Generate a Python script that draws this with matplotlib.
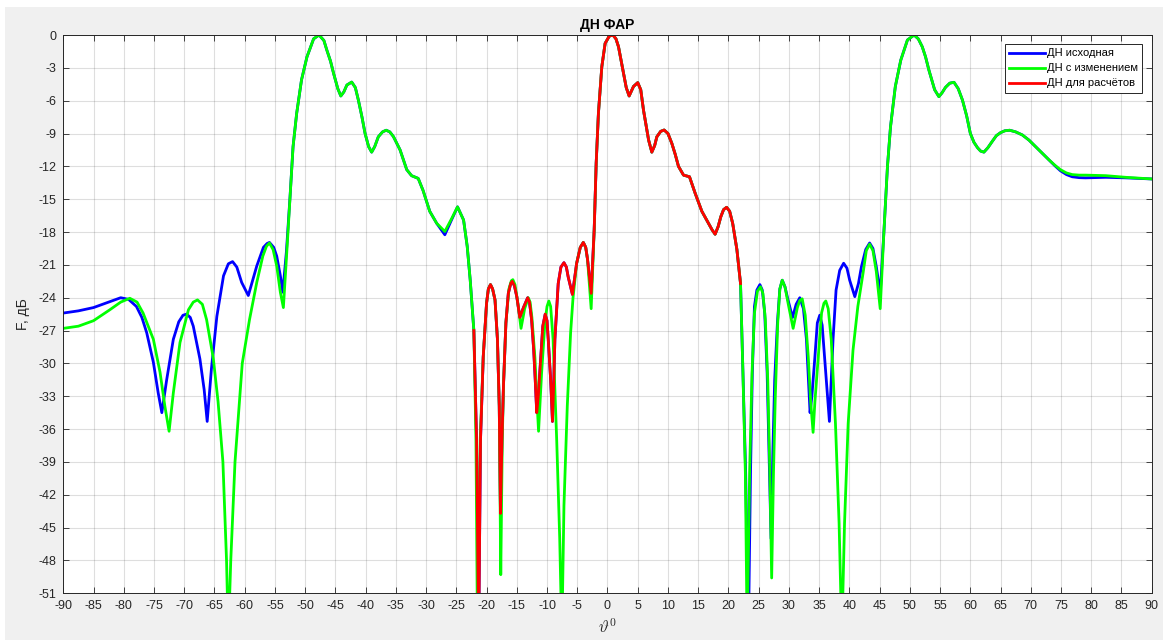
import numpy as np
import matplotlib
matplotlib.use("Agg")
import matplotlib.pyplot as plt
from matplotlib.patches import Rectangle

plt.rcParams['font.family'] = ['Liberation Sans', 'DejaVu Sans']
plt.rcParams['axes.unicode_minus'] = False
plt.rcParams['mathtext.fontset'] = 'cm'

# ---- data (angle in degrees, level in dB) ----
# far-left side lobes, blue
blue_left_deg = [-90, -87.5, -85, -82.5, -80.5, -79.2, -77.9, -77.0, -76.2, -75.1, -74.3, -73.7,
                 -72.9, -71.8, -70.9, -70.2, -69.6, -69.0, -68.5, -67.4, -66.7, -66.2, -65.5,
                 -64.6, -63.5, -62.7, -62.0, -61.3, -60.5, -59.4, -58.0, -56.9, -56.3, -55.9,
                 -55.2, -54.7, -54.1, -53.7, -53.1]
blue_left_db = [-25.4, -25.2, -24.9, -24.4, -24.0, -24.15, -24.8, -25.8, -27.2, -29.9, -32.7, -34.5,
                -31.5, -27.8, -26.2, -25.6, -25.5, -25.8, -26.6, -29.6, -32.4, -35.3, -30.5,
                -25.7, -22.0, -20.9, -20.7, -21.2, -22.6, -23.8, -21.1, -19.4, -19.05, -18.95,
                -19.4, -20.2, -22.0, -23.5, -19.8]

green_left_deg = [-90, -87.5, -85, -82.3, -80.5, -79.0, -77.8, -76.8, -75.1, -74.0, -73.2, -72.5,
                  -71.8, -70.7, -69.3, -68.5, -67.8, -67.0, -66.3, -65.2, -64.4, -63.6, -63.0,
                  -62.7, -62.3, -61.6, -60.4, -59.2, -58.0, -57.0, -56.4, -55.9, -55.3, -54.7,
                  -54.1, -53.6, -53.0]
green_left_db = [-26.8, -26.6, -26.1, -25.1, -24.4, -24.05, -24.4, -25.4, -27.8, -30.8, -33.9, -36.2,
                 -32.7, -28.1, -25.1, -24.4, -24.2, -24.6, -26.0, -29.5, -33.5, -39.0, -48.0,
                 -55.0, -48.0, -39.0, -30.0, -26.0, -22.6, -20.2, -19.3, -19.0, -19.6, -21.1,
                 -23.5, -24.9, -19.5]

# left main lobe (blue and green coincide)
lobe_left_deg = [-52.5, -52.0, -51.4, -50.6, -49.7, -48.6, -47.7, -46.9, -46.4, -45.8, -45.3, -44.6,
                 -44.1, -43.6, -43.1, -42.3, -41.7, -41.2, -40.6, -40.1, -39.5, -39.0, -38.5,
                 -37.9, -37.2, -36.6, -36.0, -35.4, -34.3, -33.2, -32.4, -31.3, -30.5, -29.4,
                 -28.25]
lobe_left_db = [-14.8, -10.2, -7.15, -4.1, -2.0, -0.35, 0.0, -0.5, -1.4, -2.4, -3.5, -4.9,
                -5.57, -5.2, -4.57, -4.3, -4.8, -5.94, -7.5, -8.97, -10.2, -10.7, -10.2,
                -9.3, -8.85, -8.7, -8.85, -9.28, -10.5, -12.3, -12.85, -13.1, -14.2, -16.1,
                -17.2]

blue_mid_deg = [-26.9, -25.8, -24.8, -23.8, -23.2, -22.7]
blue_mid_db = [-18.25, -16.9, -15.7, -16.9, -19.3, -22.4]
green_mid_db = [-17.95, -16.8, -15.7, -16.9, -19.3, -22.4]

# pattern used for calculations (red); the blue one lies under it
calc_deg = [-22.1, -21.65, -21.3, -21.0, -20.55, -20.0, -19.7, -19.35, -19.0, -18.6, -18.2, -17.9,
            -17.7, -17.45, -17.2, -16.8, -16.4, -16.0, -15.75, -15.4, -15.0, -14.5, -13.9, -13.2,
            -12.9, -12.55, -12.2, -11.95, -11.7, -11.45, -11.2, -10.7, -10.3, -10.0, -9.8, -9.4,
            -9.1, -8.9, -8.7, -8.15, -7.7, -7.2, -6.8, -6.5, -5.8, -5.1, -4.5, -4.0, -3.6, -3.3,
            -2.7, -2.2, -1.87, -1.5, -0.94, -0.39, 0.3, 0.9, 1.4, 1.82, 2.65, 3.1, 3.58, 4.3, 5.0,
            5.5, 5.95, 6.8, 7.33, 7.8, 8.16, 8.8, 9.37, 10.0, 10.64, 11.2, 11.74, 12.57, 13.56,
            14.5, 15.6, 16.7, 17.3, 17.8, 18.3, 18.74, 19.2, 19.7, 20.2, 20.7, 21.4, 22.0]
calc_db = [-27.0, -37.0, -55.0, -37.0, -29.4, -24.5, -23.2, -22.8, -23.2, -24.2, -27.8, -33.9,
           -43.7, -37.0, -32.0, -26.3, -23.6, -22.7, -22.5, -22.9, -23.9, -25.8, -24.9, -24.0,
           -24.4, -26.0, -28.8, -31.5, -34.5, -33.0, -30.9, -26.6, -25.5, -26.1, -27.8, -31.5,
           -35.3, -32.0, -27.8, -22.7, -21.2, -20.8, -21.2, -22.1, -23.7, -20.85, -19.4, -18.95,
           -19.4, -20.5, -23.6, -17.8, -11.7, -7.15, -2.9, -0.76, -0.1, 0.0, -0.35, -1.07, -3.5,
           -4.8, -5.57, -4.7, -4.35, -5.0, -6.85, -9.6, -10.7, -10.1, -9.3, -8.8, -8.68, -9.0,
           -9.9, -10.9, -12.0, -12.8, -12.95, -14.46, -16.1, -17.2, -17.8, -18.2, -17.5, -16.6,
           -15.95, -15.74, -16.1, -17.2, -19.6, -22.7]

green_center_deg = [-22.1, -21.75, -21.5, -21.05, -20.55, -20.0, -19.7, -19.35, -19.0, -18.6, -18.2,
                    -17.9, -17.65, -17.4, -17.2, -16.8, -16.3, -15.9, -15.65, -15.3, -14.8, -14.3,
                    -13.7, -13.1, -12.8, -12.5, -12.0, -11.7, -11.4, -11.15, -10.9, -10.35, -10.0,
                    -9.7, -9.4, -9.0, -8.4, -7.9, -7.55, -7.2, -6.65, -6.1, -5.7, -5.1, -4.5, -4.0,
                    -3.6, -3.3, -2.7]
green_center_db = [-27.0, -37.0, -55.0, -37.0, -29.4, -24.5, -23.2, -22.8, -23.2, -24.2, -27.8,
                   -33.9, -49.3, -37.0, -32.0, -26.3, -23.2, -22.45, -22.35, -22.8, -24.6, -26.8,
                   -25.0, -24.0, -24.4, -25.8, -29.5, -33.0, -36.2, -33.5, -30.9, -26.3, -24.8,
                   -24.3, -24.8, -27.8, -37.0, -46.0, -55.0, -43.0, -33.9, -27.2, -24.0, -20.85,
                   -19.4, -18.95, -19.4, -20.5, -25.0]

# right side lobes
blue_right_deg = [22.4, 22.85, 23.3, 23.65, 23.95, 24.3, 24.7, 25.2, 25.6, 26.0, 26.4, 26.8, 27.05,
                  27.35, 27.65, 28.1, 28.5, 28.9, 29.35, 29.85, 30.6, 31.2, 31.8, 32.4, 32.9, 33.5,
                  33.8, 34.3, 34.7, 35.1, 35.5, 35.9, 36.7, 37.3, 37.8, 38.4, 39.05, 39.6, 40.05,
                  40.9, 41.5, 42.0, 42.7, 43.35, 43.9, 44.45, 45.1]
blue_right_db = [-30.9, -40.0, -55.0, -40.0, -30.9, -24.8, -23.3, -22.8, -23.3, -25.4, -30.9, -40.0,
                 -46.0, -38.0, -31.5, -26.3, -23.2, -22.4, -23.0, -24.2, -25.8, -24.6, -24.0, -25.0,
                 -27.8, -34.5, -33.0, -29.4, -26.3, -25.6, -26.5, -29.4, -35.3, -27.8, -23.3, -21.5,
                 -20.85, -21.3, -22.4, -23.9, -22.7, -21.15, -19.6, -19.0, -19.5, -21.15, -23.6]

green_right_deg = [22.4, 22.8, 23.1, 23.5, 23.9, 24.3, 24.8, 25.3, 25.7, 26.1, 26.5, 26.85, 27.15,
                   27.45, 27.75, 28.15, 28.5, 28.9, 29.35, 29.9, 30.7, 31.4, 31.8, 32.2, 32.7, 33.2,
                   33.6, 34.0, 34.3, 34.65, 35.4, 35.8, 36.1, 36.5, 37.0, 37.7, 38.3, 38.75, 39.2,
                   39.8, 40.6, 41.4, 42.25, 42.8, 43.35, 43.9, 44.45, 45.1]
green_right_db = [-30.9, -40.0, -55.0, -40.0, -30.9, -25.4, -23.4, -23.0, -23.6, -26.0, -31.5, -40.0,
                  -49.6, -40.0, -33.0, -26.3, -23.2, -22.4, -23.0, -24.6, -26.8, -24.9, -24.25,
                  -24.1, -25.6, -29.4, -33.5, -36.3, -33.5, -30.9, -25.4, -24.5, -24.3, -25.0,
                  -27.8, -35.5, -44.6, -55.0, -44.6, -35.5, -28.8, -24.8, -21.8, -19.7, -19.1,
                  -19.7, -21.6, -25.0]

# right main lobe (blue and green coincide)
lobe_right_deg = [45.7, 46.3, 46.8, 47.6, 48.5, 49.6, 50.7, 51.4, 52.05, 52.6, 53.15, 54.1, 54.8,
                  55.3, 55.9, 56.6, 57.3, 58.0, 58.7, 59.4, 60.0, 60.6, 61.2, 61.7, 62.25, 62.9,
                  63.6, 64.3, 65.0, 65.7, 66.5, 67.5, 68.6, 69.7, 70.8, 71.9, 73.0]
lobe_right_db = [-18.1, -12.0, -8.4, -4.7, -2.3, -0.46, 0.0, -0.35, -1.07, -2.0, -3.2, -5.0, -5.63,
                 -5.3, -4.78, -4.4, -4.32, -4.9, -5.94, -7.4, -8.98, -9.8, -10.3, -10.6, -10.7,
                 -10.3, -9.74, -9.2, -8.92, -8.75, -8.7, -8.85, -9.13, -9.6, -10.2, -10.8, -11.4]

tail_deg = [74.0, 74.9, 75.9, 76.85, 78.0, 79.05, 82.4, 85.7, 90.0]
blue_tail_db = [-11.95, -12.4, -12.75, -12.95, -13.03, -13.05, -13.0, -13.05, -13.15]
green_tail_db = [-11.9, -12.3, -12.6, -12.75, -12.8, -12.8, -12.85, -13.0, -13.15]

labels = ['ДН исходная', 'ДН с изменением', 'ДН для расчётов']

# assemble the three curves
blue_x = blue_left_deg + lobe_left_deg + blue_mid_deg + calc_deg + blue_right_deg + lobe_right_deg + tail_deg
blue_y = blue_left_db + lobe_left_db + blue_mid_db + calc_db + blue_right_db + lobe_right_db + blue_tail_db

# green follows the red curve from -2.2 to 22.0
i0 = calc_deg.index(-2.2)
green_x = (green_left_deg + lobe_left_deg + blue_mid_deg + green_center_deg + calc_deg[i0:]
           + green_right_deg + lobe_right_deg + tail_deg)
green_y = (green_left_db + lobe_left_db + green_mid_db + green_center_db + calc_db[i0:]
           + green_right_db + lobe_right_db + green_tail_db)

fig = plt.figure(figsize=(11.63, 6.4), dpi=100, facecolor='white')
# grey MATLAB figure background (thin white strip top and left)
fig.patches.append(Rectangle((5 / 1163, 0), 1, 1 - 7 / 640, transform=fig.transFigure,
                             facecolor='#f0f0f0', edgecolor='none', zorder=-10))

ax = fig.add_axes([0.0544, 0.0730, 0.9359, 0.8723])
ax.set_zorder(5)
ax.set_facecolor('white')

ax.plot(blue_x, blue_y, color='#0000ff', lw=2.0, label=labels[0])
ax.plot(green_x, green_y, color='#00ff00', lw=2.0, label=labels[1])
ax.plot(calc_deg, calc_db, color='#ff0000', lw=2.0, label=labels[2])

ax.set_xlim(-90, 90)
ax.set_ylim(-51, 0)
ax.set_xticks(np.arange(-90, 91, 5))
ax.set_yticks(np.arange(-51, 1, 3))
ax.grid(True, color='#262626', alpha=0.15, lw=0.8)
ax.set_axisbelow(True)

ax.tick_params(direction='in', top=True, right=True, length=4, width=0.6,
               colors='#262626', labelsize=9, pad=5)
for s in ax.spines.values():
    s.set_color('#262626')
    s.set_linewidth(0.7)

ax.set_title('ДН ФАР', fontsize=10, fontweight='bold', color='#000000', pad=4)
ax.set_ylabel('F, дБ', fontsize=10, color='#262626')
ax.yaxis.set_label_coords(-0.031, 0.5)
ax.set_xlabel(r'$\vartheta^0$', fontsize=12, color='#262626')
ax.xaxis.set_label_coords(0.5, -0.043)

leg = ax.legend(loc='upper right', bbox_to_anchor=(1 - 9.4 / 1088.4, 1 - 9 / 558.3),
                borderaxespad=0, fontsize=8, fancybox=False, framealpha=1,
                edgecolor='#262626', handlelength=3.2, handletextpad=0.2,
                labelspacing=0.45, borderpad=0.4)
leg.get_frame().set_linewidth(0.7)

fig.savefig('out.png', dpi=100, facecolor=fig.get_facecolor())
